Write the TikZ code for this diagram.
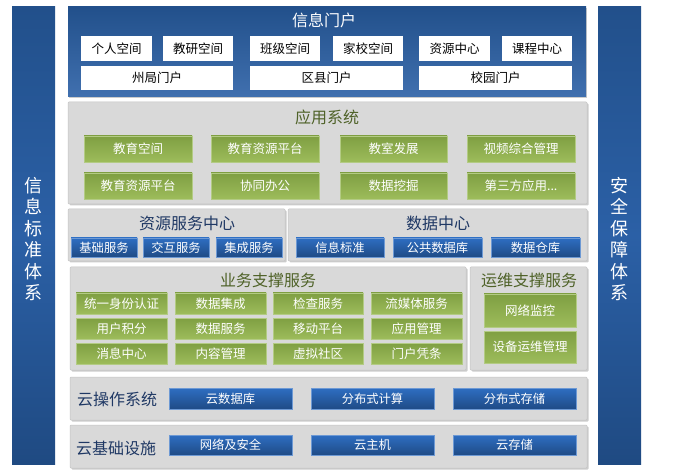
\documentclass[tikz,border=0pt]{standalone}
\usepackage{fontspec}
\setmainfont{Noto Sans CJK SC}
\usetikzlibrary{shadows}
\definecolor{barTop}{HTML}{22508B}
\definecolor{barMid}{HTML}{2B60A6}
\definecolor{barBot}{HTML}{1F4A82}
\definecolor{panelGray}{HTML}{D9D9D9}
\definecolor{panelLine}{HTML}{C4C4C4}
\definecolor{shadowGray}{HTML}{9A9A9A}
\definecolor{greenTop}{HTML}{7F9F42}
\definecolor{greenBot}{HTML}{9DBC5B}
\definecolor{greenLine}{HTML}{B3CB84}
\definecolor{btnTop}{HTML}{2E6EC2}
\definecolor{btnBot}{HTML}{1F4B86}
\definecolor{titleGreen}{HTML}{4F6228}
\definecolor{titleBlue}{HTML}{1F3864}
\newcommand\bx[7]{\node[#2, minimum width={#5-#3}, minimum height={#6-#4}] (#1) at ({(#3+#5)/2},{(#4+#6)/2}) {#7};}
\begin{document}
\begin{tikzpicture}[x=1pt,y=-1pt,
  every node/.style={inner sep=0pt, outer sep=0pt},
  sidebar/.style={top color=barTop, bottom color=barBot, middle color=barMid},
  sidetext/.style={text=white, font=\fontsize{18}{21.5}\selectfont, align=center},
  topbox/.style={top color=barTop, bottom color=barMid!90!white,
    drop shadow={shadow xshift=1.2pt, shadow yshift=-1.2pt, fill=shadowGray}},
  panel/.style={fill=panelGray, draw=panelLine, line width=0.5pt, rounded corners=1pt,
    drop shadow={shadow xshift=1.5pt, shadow yshift=-1.5pt, fill=shadowGray}},
  whitebox/.style={fill=white, font=\fontsize{12.5}{14}\selectfont},
  greenbox/.style={top color=greenTop, bottom color=greenBot, draw=greenLine, line width=0.4pt,
    text=white, font=\fontsize{12.5}{14}\selectfont},
  bluebtn/.style={top color=btnTop, bottom color=btnBot, draw=btnTop!70!white, line width=0.3pt,
    text=white, font=\fontsize{12.3}{14}\selectfont},
  gtitle/.style={text=titleGreen, font=\fontsize{16}{18}\selectfont},
  btitle/.style={text=titleBlue, font=\fontsize{16}{18}\selectfont},
  wtitle/.style={text=white, font=\fontsize{16}{18}\selectfont}]
\fill[white] (0,0) rectangle (675,473);
\useasboundingbox (0,0) rectangle (675,473);

% side bars
\bx{lbar}{sidebar}{12}{7}{55}{464}{}
\bx{rbar}{sidebar}{598}{7}{641}{464}{}
\node[sidetext] (ltext) at (33.5,239) {信\\息\\标\\准\\体\\系};
\node[sidetext] (rtext) at (619.5,239) {安\\全\\保\\障\\体\\系};

% top panel
\bx{portal}{topbox}{68}{7}{586}{97}{}
\node[wtitle] (portalT) at (324,20) {信息门户};
\bx{p1}{whitebox}{81}{36}{152}{61}{个人空间}
\bx{p2}{whitebox}{163}{36}{233}{61}{教研空间}
\bx{p3}{whitebox}{250}{36}{320}{61}{班级空间}
\bx{p4}{whitebox}{333}{36}{403}{61}{家校空间}
\bx{p5}{whitebox}{419}{36}{490}{61}{资源中心}
\bx{p6}{whitebox}{502}{36}{572}{61}{课程中心}
\bx{p7}{whitebox}{81}{66}{233}{90}{州局门户}
\bx{p8}{whitebox}{250}{66}{403}{90}{区县门户}
\bx{p9}{whitebox}{419}{66}{572}{90}{校园门户}

% application system
\bx{app}{panel}{68}{102}{587}{204}{}
\node[gtitle] (appT) at (327,117) {应用系统};
\bx{a1}{greenbox}{84}{136}{192}{162}{教育空间}
\bx{a2}{greenbox}{211}{136}{319}{162}{教育资源平台}
\bx{a3}{greenbox}{340}{136}{447}{162}{教室发展}
\bx{a4}{greenbox}{467}{136}{575}{162}{视频综合管理}
\bx{a5}{greenbox}{84}{173}{192}{199}{教育资源平台}
\bx{a6}{greenbox}{211}{173}{319}{199}{协同办公}
\bx{a7}{greenbox}{340}{173}{447}{199}{数据挖掘}
\bx{a8}{greenbox}{467}{173}{575}{199}{第三方应用...}

% resource service center
\bx{res}{panel}{68}{209}{285}{261}{}
\node[btitle] (resT) at (187,223) {资源服务中心};
\bx{r1}{bluebtn}{71}{238}{137}{257}{基础服务}
\bx{r2}{bluebtn}{143}{238}{209}{257}{交互服务}
\bx{r3}{bluebtn}{216}{238}{282}{257}{集成服务}

% data center
\bx{dc}{panel}{288}{209}{587}{261}{}
\node[btitle] (dcT) at (438,223) {数据中心};
\bx{d1}{bluebtn}{296}{238}{384}{257}{信息标准}
\bx{d2}{bluebtn}{393}{238}{482}{257}{公共数据库}
\bx{d3}{bluebtn}{491}{238}{580}{257}{数据仓库}

% business support
\bx{biz}{panel}{70}{267}{466}{370}{}
\node[gtitle] (bizT) at (268,280) {业务支撑服务};
\bx{b1}{greenbox}{76}{293}{167}{314}{统一身份认证}
\bx{b2}{greenbox}{175}{293}{266}{314}{数据集成}
\bx{b3}{greenbox}{273}{293}{363}{314}{检查服务}
\bx{b4}{greenbox}{371}{293}{462}{314}{流媒体服务}
\bx{b5}{greenbox}{76}{318}{167}{339}{用户积分}
\bx{b6}{greenbox}{175}{318}{266}{339}{数据服务}
\bx{b7}{greenbox}{273}{318}{363}{339}{移动平台}
\bx{b8}{greenbox}{371}{318}{462}{339}{应用管理}
\bx{b9}{greenbox}{76}{343}{167}{364}{消息中心}
\bx{b10}{greenbox}{175}{343}{266}{364}{内容管理}
\bx{b11}{greenbox}{273}{343}{363}{364}{虚拟社区}
\bx{b12}{greenbox}{371}{343}{462}{364}{门户凭条}

% ops support
\bx{ops}{panel}{470}{267}{587}{370}{}
\node[gtitle] (opsT) at (529,280) {运维支撑服务};
\bx{o1}{greenbox}{484}{294}{576}{327}{网络监控}
\bx{o2}{greenbox}{484}{331}{576}{363}{设备运维管理}

% cloud OS
\bx{cos}{panel}{70}{377}{587}{420}{}
\node[btitle] (cosT) at (117,399) {云操作系统};
\bx{c1}{bluebtn}{169}{388}{292}{409}{云数据库}
\bx{c2}{bluebtn}{311}{388}{434}{409}{分布式计算}
\bx{c3}{bluebtn}{453}{388}{576}{409}{分布式存储}

% cloud infrastructure
\bx{cin}{panel}{70}{425}{587}{468}{}
\node[btitle] (cinT) at (116,448) {云基础设施};
\bx{i1}{bluebtn}{169}{435}{292}{455}{网络及安全}
\bx{i2}{bluebtn}{311}{435}{434}{455}{云主机}
\bx{i3}{bluebtn}{453}{435}{576}{455}{云存储}
\end{tikzpicture}
\end{document}
